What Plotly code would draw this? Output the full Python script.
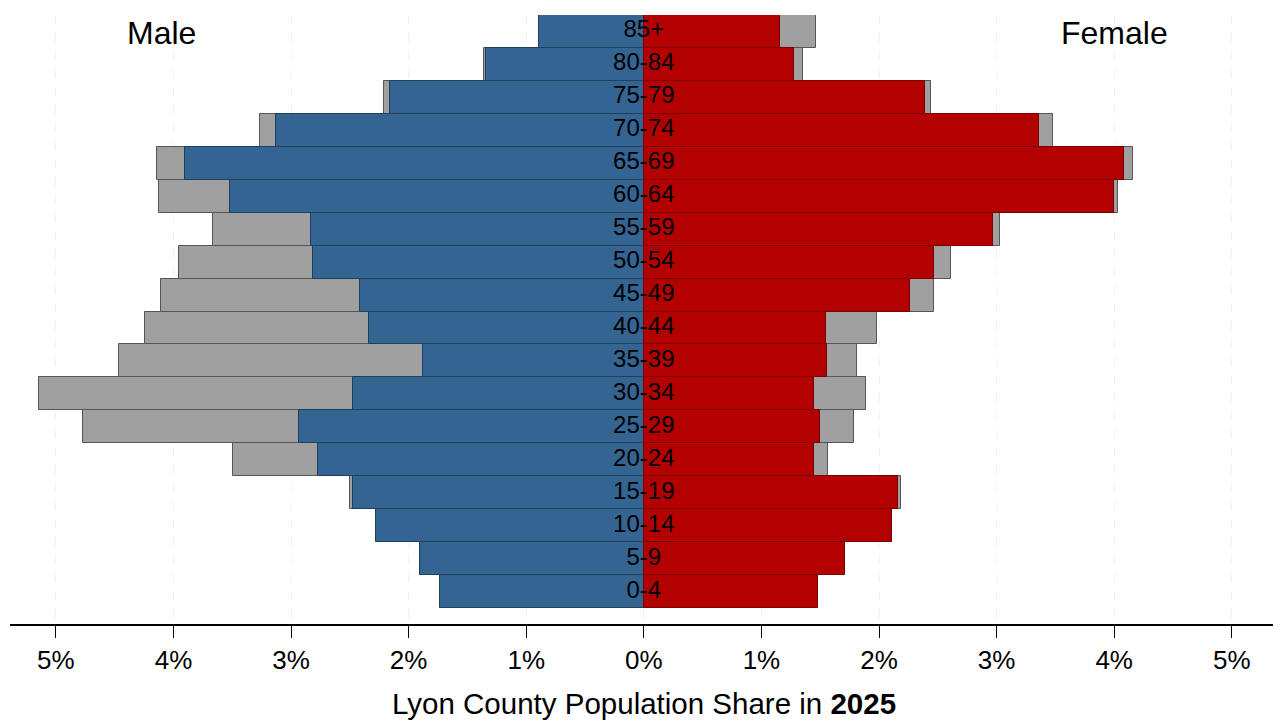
import plotly.graph_objects as go

# age groups, bottom to top
age_groups = ['0-4', '5-9', '10-14', '15-19', '20-24', '25-29', '30-34', '35-39', '40-44',
              '45-49', '50-54', '55-59', '60-64', '65-69', '70-74', '75-79', '80-84', '85+']

# 2025 shares (%)
male_2025 = [1.73, 1.90, 2.28, 2.47, 2.77, 2.93, 2.47, 1.88, 2.34,
             2.41, 2.81, 2.83, 3.52, 3.90, 3.13, 2.16, 1.34, 0.89]
female_2025 = [1.48, 1.71, 2.11, 2.16, 1.45, 1.50, 1.45, 1.56, 1.55,
               2.26, 2.47, 2.97, 4.00, 4.08, 3.36, 2.39, 1.28, 1.16]

# comparison shares drawn in gray behind (%)
male_compare = [1.60, 1.75, 2.10, 2.50, 3.49, 4.77, 5.14, 4.46, 4.24,
                4.11, 3.95, 3.66, 4.12, 4.14, 3.26, 2.21, 1.36, 0.80]
female_compare = [1.40, 1.60, 2.00, 2.19, 1.57, 1.79, 1.89, 1.81, 1.98,
                  2.47, 2.61, 3.03, 4.03, 4.16, 3.48, 2.44, 1.35, 1.46]

tick_vals = [-5, -4, -3, -2, -1, 0, 1, 2, 3, 4, 5]
tick_text = ['5%', '4%', '3%', '2%', '1%', '0%', '1%', '2%', '3%', '4%', '5%']

blue = '#346491'
red = '#b30000'
gray = '#a0a0a0'

fig = go.Figure()
fig.add_trace(go.Bar(y=age_groups, x=[-v for v in male_compare], orientation='h',
                     marker=dict(color=gray, line=dict(color='#555555', width=1))))
fig.add_trace(go.Bar(y=age_groups, x=female_compare, orientation='h',
                     marker=dict(color=gray, line=dict(color='#555555', width=1))))
fig.add_trace(go.Bar(y=age_groups, x=[-v for v in male_2025], orientation='h',
                     marker=dict(color=blue, line=dict(color='#1f3f5e', width=1))))
fig.add_trace(go.Bar(y=age_groups, x=female_2025, orientation='h',
                     marker=dict(color=red, line=dict(color='#7a0000', width=1))))
fig.add_trace(go.Scatter(y=age_groups, x=[0] * len(age_groups), mode='text', text=age_groups,
                         textfont=dict(size=24, color='black', family='Liberation Sans')))

# page body adds ~8px offset, so the figure is sized/margined to compensate
x_lo, x_hi = -5.39, 5.41
fig.update_layout(
    width=1273, height=715,
    margin=dict(l=2, r=1, t=7, b=99),
    barmode='overlay', bargap=0,
    showlegend=False,
    plot_bgcolor='white', paper_bgcolor='white',
    font=dict(family='Liberation Sans', color='black'),
    xaxis=dict(range=[x_lo, x_hi], tickvals=tick_vals, ticktext=tick_text,
               tickfont=dict(size=26), ticks='outside', ticklen=12, tickwidth=1, tickcolor='black',
               showline=True, linecolor='black', linewidth=2,
               showgrid=True, gridcolor='#f0f0f0', griddash='dash', zeroline=False),
    yaxis=dict(type='category', categoryorder='array', categoryarray=age_groups,
               range=[-0.985, 17.5], showticklabels=False, showgrid=False, zeroline=False),
    annotations=[
        dict(text='Male', x=-4.1, y=0.97, xref='x', yref='paper', showarrow=False,
             yanchor='middle', font=dict(size=32)),
        dict(text='Female', x=4.0, y=0.97, xref='x', yref='paper', showarrow=False,
             yanchor='middle', font=dict(size=32)),
        dict(text='Lyon County Population Share in <b>2025</b>', x=0, y=-0.13,
             xref='x', yref='paper', showarrow=False, yanchor='middle', font=dict(size=29.5)),
    ],
)

fig.write_html('out.html')
